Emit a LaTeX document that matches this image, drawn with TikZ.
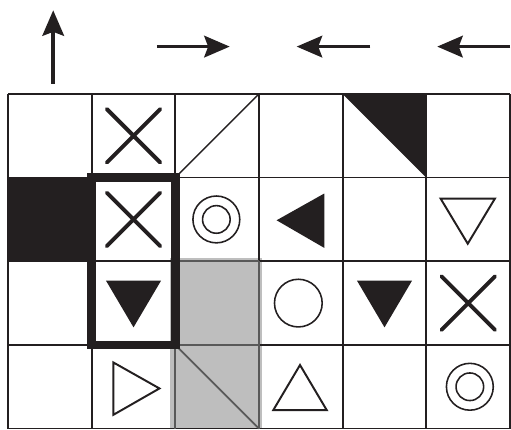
\documentclass[tikz,border=0pt]{standalone}
\usetikzlibrary{arrows.meta}
\definecolor{ink}{HTML}{231F20}
\definecolor{cellgray}{HTML}{BEBEBE}
\begin{document}
\begin{tikzpicture}[x=1.5cm, y=1.5cm,
  gridline/.style={draw=ink, line width=0.9pt},
  shadeline/.style={draw=black!65, line width=0.9pt},
  cross/.style={draw=ink, line width=2pt, line cap=round},
  filltri/.style={fill=ink},
  opentri/.style={draw=ink, line width=1pt},
  ring/.style={draw=ink, line width=0.8pt},
  heading/.style={draw=ink, line width=1.8pt, -{Stealth[length=13pt, width=11pt, inset=2pt]}}]
\useasboundingbox (-0.096,-0.012) rectangle (6.012,5.123);
\coordinate (upfoot) at (0.54,4.12);
\coordinate (uphead) at (0.54,5.0);
\coordinate (rfoot) at (1.78,4.566);
\coordinate (rhead) at (2.65,4.566);
\coordinate (lfoot) at (4.33,4.566);
\coordinate (lhead) at (3.45,4.566);
\coordinate (ofoot) at (6.0,4.566);
\coordinate (ohead) at (5.13,4.566);
\draw[heading] (upfoot) -- (uphead);
\draw[heading] (rfoot) -- (rhead);
\draw[heading] (lfoot) -- (lhead);
\draw[heading] (ofoot) -- (ohead);
\fill[cellgray] (1.94,0) rectangle (3.04,2.04);
\fill[ink] (0,2) rectangle (1,3);
\fill[ink] (4,4) -- (5,4) -- (5,3) -- cycle;
\foreach \x in {0,...,6} \draw[gridline] (\x,0) -- (\x,4);
\foreach \y in {0,...,4} \draw[gridline] (0,\y) -- (6,\y);
\draw[shadeline] (2,0) -- (2,2) (3,0) -- (3,2) (2,1) -- (3,1) (2,2) -- (3,2);
\draw[gridline, line width=0.7pt] (2,3) -- (3,4);
\draw[shadeline] (2,1) -- (3,0);
\draw[ink, line width=4.5pt] (1,1) rectangle (2,3);
\foreach \c/\r in {1.5/3.5, 1.5/2.5, 5.5/1.5}
  \draw[cross] (\c-0.32,\r-0.32) -- (\c+0.32,\r+0.32) (\c-0.32,\r+0.32) -- (\c+0.32,\r-0.32);
\foreach \c/\r in {2.49/2.5, 5.52/0.5} {
  \draw[ring] (\c,\r) circle (0.28);
  \draw[ring] (\c,\r) circle (0.165);
}
\draw[ring] (3.47,1.5) circle (0.285);
\foreach \c in {1.5, 4.5}
  \fill[filltri] (\c-0.33,1.77) -- (\c+0.33,1.77) -- (\c,1.21) -- cycle;
\fill[filltri] (3.21,2.49) -- (3.78,2.81) -- (3.78,2.16) -- cycle;
\draw[opentri] (5.17,2.75) -- (5.82,2.75) -- (5.495,2.21) -- cycle;
\draw[opentri] (3.17,0.22) -- (3.81,0.22) -- (3.49,0.76) -- cycle;
\draw[opentri] (1.26,0.79) -- (1.26,0.165) -- (1.81,0.48) -- cycle;
\end{tikzpicture}
\end{document}
